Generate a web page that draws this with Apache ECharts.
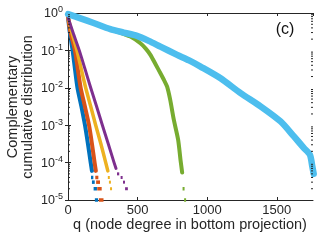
<!DOCTYPE html>
<html><head><meta charset="utf-8">
<script src="https://cdn.jsdelivr.net/npm/echarts@6/dist/echarts.min.js"></script>
<style>html,body{margin:0;padding:0;background:#fff}#c{width:320px;height:240px}</style>
</head><body><div id="c"></div>
<script>
// ---- data ----
const xTicks = [0, 500, 1000, 1500];
const yExps = [0, -1, -2, -3, -4, -5];
const blue = [[1,0.75],[12,0.32],[33,0.1],[50,0.032],[68,0.01],[96,0.0032],[122,0.001],[143,0.00032],[163,0.0001],[172,0.00006]];
const blueTail = [[165,182,4e-5],[172,192,3e-5],[184,208,2e-5],[193,216,1e-5]];
const orange = [[1,0.75],[18,0.3],[50,0.1],[70,0.032],[91,0.01],[121,0.0032],[151,0.001],[172,0.00032],[191,0.0001],[200,0.00006]];
const orangeTail = [[196,218,4e-5],[202,230,3e-5],[210,242,2e-5],[222,255,1e-5]];
const yellow = [[1,0.75],[28,0.3],[64,0.1],[95,0.032],[127,0.01],[163,0.0032],[199,0.001],[236,0.00032],[271,0.0001],[286,0.00006]];
const yellowTail = [[286,298,4e-5],[294,306,3e-5],[302,313,2e-5]];
const purple = [[1,0.75],[36,0.3],[81,0.1],[122,0.032],[163,0.01],[205,0.0032],[247,0.001],[289,0.00032],[331,0.0001],[345,0.00007]];
const purpleTail = [[352,368,5e-5],[378,392,4e-5],[395,406,3e-5],[410,430,2e-5]];
const green = [[1,0.93],[90,0.7],[184,0.53],[304,0.36],[364,0.31],[448,0.234],[520,0.155],[560,0.11],[592,0.076],[630,0.042],[664,0.0245],[690,0.016],[712,0.0107],[734,0.0048],[760,0.0014],[791,0.00041],[808,0.00012],[820,0.000054]];
const greenTail = [[823,831,2e-5],[834,844,1e-5]];
const lightblue = [[1,0.93],[90,0.72],[184,0.54],[304,0.37],[400,0.3],[496,0.245],[580,0.18],[664,0.126],[784,0.076],[870,0.054],[952,0.037],[1096,0.018],[1240,0.0072],[1383,0.0032],[1527,0.00126],[1623,0.0005],[1695,0.000245],[1738,0.000162],[1755,0.000079],[1765,0.00005]];
const minorMult = [2,3,4,5,6,7,8,9];

// ---- chart ----
const X_MAX = 1760;
const font = "'Liberation Sans', Arial, sans-serif";
const axisCol = '#262626';
const colors = {blue:'#0072BD', orange:'#D95319', yellow:'#EDB120', purple:'#7E2F8E', green:'#77AC30', lightblue:'#4DBEEE'};

const minorVals = [];
for (const e of yExps) { if (e === 0) continue; for (const m of minorMult) minorVals.push(m * Math.pow(10, e)); }

function lineSeries(data, color, width) {
  return {type:'line', data, showSymbol:false, symbol:'none', smooth:0.25, silent:true, animation:false,
    lineStyle:{color, width, cap:'round', join:'round'}, z:2};
}
function tailSeries(data, color, h) {
  return {type:'custom', data, silent:true, animation:false, z:2,
    encode:{x:[0,1], y:2},
    renderItem(params, api) {
      const p1 = api.coord([api.value(0), api.value(2)]);
      const p2 = api.coord([api.value(1), api.value(2)]);
      return {type:'rect', shape:{x:p1[0], y:p1[1]-h/2, width:Math.max(2, p2[0]-p1[0]), height:h}, style:{fill:color}};
    }};
}
const minorSeries = {type:'custom', data:minorVals.map(v=>[X_MAX/2, v]), silent:true, animation:false, z:5, clip:false,
  encode:{x:0, y:1},
  renderItem(params, api) {
    const v = api.value(1);
    const l = api.coord([0, v]);
    const r = api.coord([X_MAX, v]);
    return {type:'group', children:[
      {type:'line', shape:{x1:l[0], y1:l[1], x2:l[0]+2, y2:l[1]}, style:{stroke:axisCol, lineWidth:1}},
      {type:'line', shape:{x1:r[0], y1:r[1], x2:r[0]-2, y2:r[1]}, style:{stroke:axisCol, lineWidth:1}}
    ]};
  }};

const chart = echarts.init(document.getElementById('c'), null, {renderer:'canvas'});
const axLine = {show:true, lineStyle:{color:axisCol, width:1}};
chart.setOption({
  animation:false,
  backgroundColor:'#fff',
  grid:{left:68, right:7, top:13, bottom:40},
  xAxis:[
    {type:'value', min:0, max:X_MAX, interval:500, axisLine:axLine,
     axisTick:{show:true, inside:true, length:3, lineStyle:{color:axisCol}},
     splitLine:{show:false},
     axisLabel:{color:axisCol, fontSize:13, fontFamily:font, margin:4, showMaxLabel:false,
       formatter:v=> xTicks.includes(v) ? String(v) : ''}},
    {type:'value', position:'top', min:0, max:X_MAX, interval:500, axisLine:axLine,
     axisTick:{show:true, inside:true, length:3, lineStyle:{color:axisCol}},
     splitLine:{show:false}, axisLabel:{show:false}}
  ],
  yAxis:[
    {type:'log', logBase:10, min:1e-5, max:1, splitNumber:5, axisLine:axLine,
     axisTick:{show:true, inside:true, length:3, lineStyle:{color:axisCol}},
     splitLine:{show:false},
     axisLabel:{margin:5, fontFamily:font, color:axisCol,
       formatter:v=>{const e=Math.round(Math.log10(v)); return yExps.includes(e)?'{b|10}{s|'+e+'}':'';},
       rich:{b:{fontSize:12.5, fontFamily:font, color:axisCol, verticalAlign:'bottom', lineHeight:14},
             s:{fontSize:9, fontFamily:font, color:axisCol, verticalAlign:'bottom', padding:[0,0,6,0]}}}},
    {type:'log', logBase:10, min:1e-5, max:1, splitNumber:5, position:'right', axisLine:axLine,
     axisTick:{show:true, inside:true, length:3, lineStyle:{color:axisCol}},
     splitLine:{show:false}, axisLabel:{show:false}}
  ],
  graphic:[
    {type:'text', x:0, y:0, style:{text:'q (node degree in bottom projection)', x:190, y:225, align:'center', verticalAlign:'middle', fontSize:14.5, fontFamily:font, fill:axisCol}, z:10},
    {type:'text', rotation:Math.PI/2, x:20, y:107, style:{text:'Complementary\ncumulative distribution', x:0, y:0, align:'center', verticalAlign:'middle', lineHeight:15, fontSize:14.5, fontFamily:font, fill:axisCol}, z:10},
    {type:'text', x:0, y:0, style:{text:'(c)', x:285, y:30, align:'center', verticalAlign:'middle', fontSize:16, fontFamily:font, fill:'#111'}, z:10}
  ],
  series:[
    lineSeries(blue, colors.blue, 4), tailSeries(blueTail, colors.blue, 3.5),
    lineSeries(orange, colors.orange, 4), tailSeries(orangeTail, colors.orange, 3.5),
    lineSeries(yellow, colors.yellow, 3.5), tailSeries(yellowTail, colors.yellow, 3),
    lineSeries(purple, colors.purple, 3), tailSeries(purpleTail, colors.purple, 3),
    lineSeries(green, colors.green, 4), tailSeries(greenTail, colors.green, 3.5),
    lineSeries(lightblue, colors.lightblue, 6.5),
    minorSeries
  ]
});
</script></body></html>
